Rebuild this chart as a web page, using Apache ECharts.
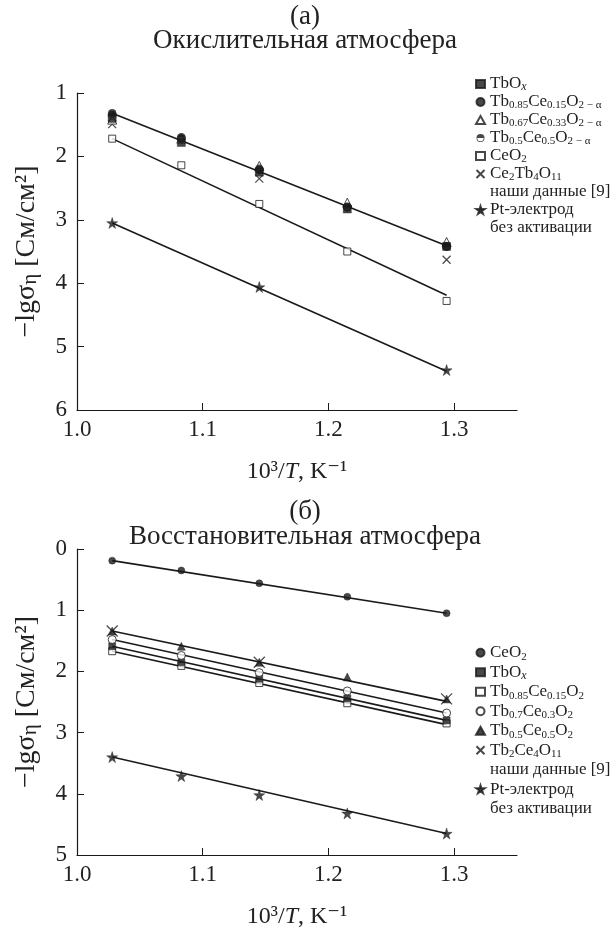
<!DOCTYPE html>
<html>
<head>
<meta charset="utf-8">
<script src="https://cdn.jsdelivr.net/npm/echarts@6/dist/echarts.min.js"></script>
<style>
html,body{margin:0;padding:0;background:#fff;}
#chart{width:610px;height:930px;}
</style>
</head>
<body>
<div id="chart"></div>
<script>
// ---------- data ----------
// x values: 10^3/T, K^-1
const xVals = [1.028, 1.083, 1.145, 1.215, 1.294];
const xTicks = [1.0, 1.1, 1.2, 1.3];
const yTicksTop = [1, 2, 3, 4, 5, 6];
const yTicksBottom = [0, 1, 2, 3, 4, 5];

// (а) Oxidising atmosphere
const topTbOx      = [1.40, 1.78, 2.25, 2.83, 3.42];
const topTb085     = [1.32, 1.72, 2.22, 2.80, 3.42];
const topTb067     = [1.42, 1.72, 2.15, 2.73, 3.35];
const topTb05      = [1.35, 1.70, 2.20, 2.80, 3.42];
const topCeO2      = [1.72, 2.14, 2.75, 3.50, 4.28];
const topCe2Tb4O11 = [1.49, null, 2.35, null, 3.63];
const topPt        = [3.05, null, 4.06, null, 5.37];
// fitted lines: [value at first x, value at last x]
const topFitTb   = [1.32, 3.41];
const topFitCeO2 = [1.72, 4.19];
const topFitPt   = [3.05, 5.39];

// (б) Reducing atmosphere
const botCeO2      = [0.19, 0.35, 0.56, 0.78, 1.05];
const botTbOx      = [1.59, 1.85, 2.12, 2.44, 2.80];
const botTb085     = [1.67, 1.91, 2.19, 2.52, 2.85];
const botTb07      = [1.48, 1.74, 2.02, 2.32, 2.68];
const botTb05      = [1.34, 1.59, 1.85, 2.09, 2.45];
const botTb2Ce4O11 = [1.34, null, 1.85, null, 2.45];
const botPt        = [3.40, 3.71, 4.02, 4.32, 4.65];
const botFitCeO2 = [0.19, 1.05];
const botFitTb05 = [1.34, 2.49];
const botFitTb07 = [1.48, 2.68];
const botFitTbOx = [1.59, 2.80];
const botFitTb085 = [1.67, 2.87];
const botFitPt   = [3.40, 4.65];

// ---------- helpers ----------
const FONT = '"Liberation Serif", "DejaVu Serif", serif';
const INK = '#1a1a1a';
const SYM = {
  star: 'path://M50,0 L61,35 L98,35 L68,57 L79,91 L50,70 L21,91 L32,57 L2,35 L39,35 Z',
  cross: 'path://M0,0L10,10M10,0L0,10',
  half: 'path://M-5,0A5,5,0,1,1,5,0A5,5,0,1,1,-5,0ZM-4,0A4,4,0,1,0,4,0A4,4,0,1,0,-4,0ZM-5,0A5,5,0,0,1,5,0Z'
};
function pts(arr) {
  return xVals.map((x, i) => [x, arr[i]]).filter(p => p[1] !== null && p[1] !== undefined);
}
function fit(f) {
  return [[xVals[0], f[0]], [xVals[xVals.length - 1], f[1]]];
}
const filled = {color: INK, borderColor: INK, borderWidth: 0.5};
const open = {color: '#fff', borderColor: INK, borderWidth: 1};
const stroke = {color: 'none', borderColor: INK, borderWidth: 1.2};

function sc(name, idx, arr, symbol, size, style) {
  return {
    name: name, type: 'scatter', xAxisIndex: idx, yAxisIndex: idx,
    data: pts(arr), symbol: symbol, symbolSize: size, itemStyle: style, z: 5,
    emphasis: {disabled: true}
  };
}
function ln(idx, f) {
  return {
    type: 'line', xAxisIndex: idx, yAxisIndex: idx, data: fit(f),
    symbol: 'none', lineStyle: {color: INK, width: 1.6}, z: 3, silent: true
  };
}

const labels = {
  a1: 'TbO{si|x}',
  a2: 'Tb{s|0.85}Ce{s|0.15}O{s|2 − α}',
  a3: 'Tb{s|0.67}Ce{s|0.33}O{s|2 − α}',
  a4: 'Tb{s|0.5}Ce{s|0.5}O{s|2 − α}',
  a5: 'CeO{s|2}',
  a6: 'Ce{s|2}Tb{s|4}O{s|11}',
  a6n: 'наши данные [9]',
  a7: 'Pt-электрод',
  a7n: 'без активации',
  b1: 'CeO{s|2}',
  b2: 'TbO{si|x}',
  b3: 'Tb{s|0.85}Ce{s|0.15}O{s|2}',
  b4: 'Tb{s|0.7}Ce{s|0.3}O{s|2}',
  b5: 'Tb{s|0.5}Ce{s|0.5}O{s|2}',
  b6: 'Tb{s|2}Ce{s|4}O{s|11}',
  b6n: 'наши данные [9]',
  b7: 'Pt-электрод',
  b7n: 'без активации'
};
const richLegend = {
  s: {fontFamily: FONT, fontSize: 11, lineHeight: 9, verticalAlign: 'bottom', color: '#222'},
  si: {fontFamily: FONT, fontSize: 12, fontStyle: 'italic', lineHeight: 9, verticalAlign: 'bottom', color: '#222'}
};

function xAxisDef(idx) {
  return {
    type: 'value', gridIndex: idx, min: 1.0, max: 1.35,
    name: '10³/{i|T}, K⁻¹', nameLocation: 'middle', nameGap: 50,
    nameTextStyle: {fontFamily: FONT, fontSize: 24, color: '#222',
      rich: {i: {fontFamily: FONT, fontSize: 24, fontStyle: 'italic', color: '#222'}}},
    axisLine: {onZero: false, lineStyle: {color: INK, width: 1.2}},
    axisTick: {inside: true, length: 7, customValues: xTicks, lineStyle: {color: INK}},
    axisLabel: {customValues: xTicks, fontFamily: FONT, fontSize: 23, color: '#222', margin: 8,
      formatter: v => Number(v).toFixed(1)},
    splitLine: {show: false}
  };
}
function yAxisDef(idx, mn, mx, ticks) {
  return {
    type: 'value', gridIndex: idx, min: mn, max: mx, interval: 1, inverse: true,
    name: '−lgσ{s|η} [См/см²]', nameLocation: 'middle', nameGap: 36, nameRotate: 90,
    nameTextStyle: {fontFamily: FONT, fontSize: 28, color: '#222',
      rich: {s: {fontFamily: FONT, fontSize: 21, verticalAlign: 'bottom', lineHeight: 16, color: '#222'}}},
    axisLine: {onZero: false, lineStyle: {color: INK, width: 1.2}},
    axisTick: {inside: true, length: 7, customValues: ticks, lineStyle: {color: INK}},
    axisLabel: {customValues: ticks, fontFamily: FONT, fontSize: 23, color: '#222', margin: 10},
    splitLine: {show: false}
  };
}
function legendDef(names, top, lh) {
  return {
    orient: 'vertical', left: 469, top: top, itemWidth: 9, itemHeight: 8, itemGap: 0,
    selectedMode: false,
    data: names.map(n => (n.endsWith('n') ? {name: n, icon: 'none'} : {name: n})),
    formatter: n => labels[n],
    textStyle: {fontFamily: FONT, fontSize: 17, color: '#222', lineHeight: lh, rich: richLegend}
  };
}
function ttl(text, top) {
  return {text: text, left: 300, top: top, textAlign: 'center',
    textStyle: {fontFamily: FONT, fontSize: 27, fontWeight: 'normal', color: '#222'}};
}

const option = {
  backgroundColor: '#fff',
  animation: false,
  title: [ttl('(а)', -2), ttl('Окислительная атмосфера', 22), ttl('(б)', 493), ttl('Восстановительная атмосфера', 518)],
  grid: [
    {left: 77, top: 93, width: 440, height: 317, containLabel: false},
    {left: 77, top: 549, width: 440, height: 312, containLabel: false}
  ],
  xAxis: [xAxisDef(0), xAxisDef(1)],
  yAxis: [yAxisDef(0, 1, 6, yTicksTop), yAxisDef(1, 0, 5, yTicksBottom)],
  legend: [
    legendDef(['a1', 'a2', 'a3', 'a4', 'a5', 'a6', 'a6n', 'a7', 'a7n'], 70, 18),
    legendDef(['b1', 'b2', 'b3', 'b4', 'b5', 'b6', 'b6n', 'b7', 'b7n'], 638, 19.5)
  ],
  series: [
    ln(0, topFitTb), ln(0, topFitCeO2), ln(0, topFitPt),
    sc('a6', 0, topCe2Tb4O11, SYM.cross, 8, stroke),
    sc('a5', 0, topCeO2, 'rect', 7, open),
    sc('a3', 0, topTb067, 'triangle', 9, open),
    sc('a1', 0, topTbOx, 'rect', 8, filled),
    sc('a4', 0, topTb05, SYM.half, 9, {color: INK, borderWidth: 0}),
    sc('a2', 0, topTb085, 'circle', 8, filled),
    sc('a7', 0, topPt, SYM.star, 11, filled),
    {name: 'a6n', type: 'line', xAxisIndex: 0, yAxisIndex: 0, data: []},
    {name: 'a7n', type: 'line', xAxisIndex: 0, yAxisIndex: 0, data: []},
    ln(1, botFitCeO2), ln(1, botFitTb05), ln(1, botFitTb07), ln(1, botFitTbOx), ln(1, botFitTb085), ln(1, botFitPt),
    sc('b1', 1, botCeO2, 'circle', 7, filled),
    sc('b3', 1, botTb085, 'rect', 7, open),
    sc('b2', 1, botTbOx, 'rect', 7, filled),
    sc('b4', 1, botTb07, 'circle', 8, open),
    sc('b5', 1, botTb05, 'triangle', 8, filled),
    sc('b6', 1, botTb2Ce4O11, SYM.cross, 11, stroke),
    sc('b7', 1, botPt, SYM.star, 11, filled),
    {name: 'b6n', type: 'line', xAxisIndex: 1, yAxisIndex: 1, data: []},
    {name: 'b7n', type: 'line', xAxisIndex: 1, yAxisIndex: 1, data: []}
  ]
};

const chart = echarts.init(document.getElementById('chart'), null, {renderer: 'canvas'});
chart.setOption(option);
</script>
</body>
</html>
